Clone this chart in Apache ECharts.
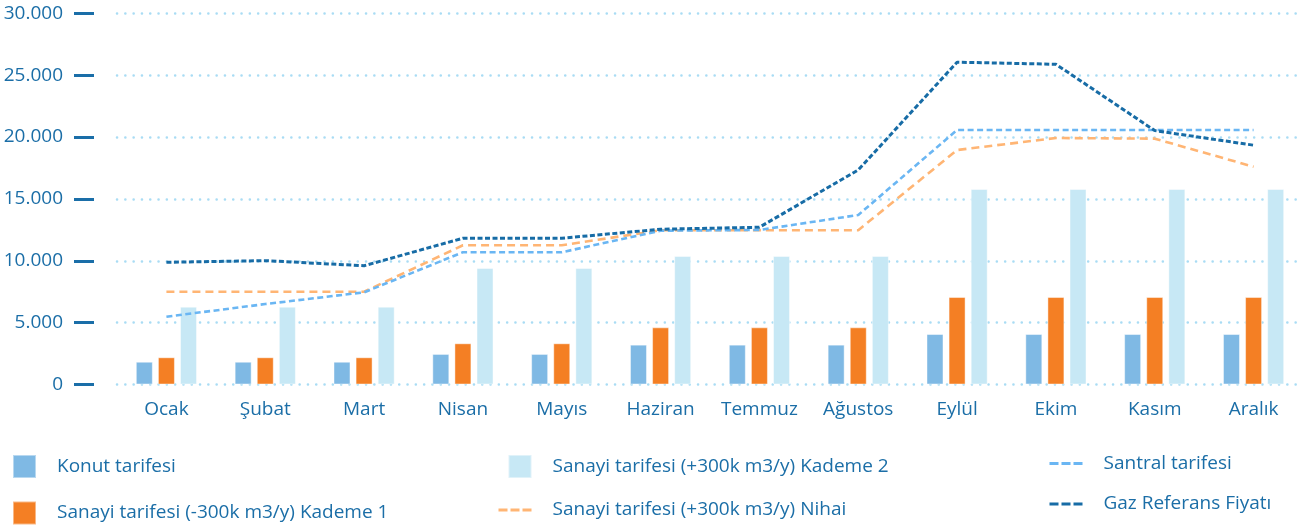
<!DOCTYPE html>
<html>
<head>
<meta charset="utf-8">
<script src="https://cdn.jsdelivr.net/npm/echarts@6/dist/echarts.min.js"></script>
<style>
  html, body { margin: 0; padding: 0; background: #fff; }
  #chart { width: 1305px; height: 530px; }
</style>
</head>
<body>
<div id="chart"></div>
<script>
const months = ['Ocak', 'Şubat', 'Mart', 'Nisan', 'Mayıs', 'Haziran', 'Temmuz', 'Ağustos', 'Eylül', 'Ekim', 'Kasım', 'Aralık']

const konut    = [1840, 1840, 1840, 2470, 2470, 3220, 3220, 3220, 4080, 4080, 4080, 4080]
const kademe1  = [2200, 2200, 2200, 3330, 3330, 4620, 4620, 4620, 7070, 7070, 7070, 7070]
const kademe2  = [6290, 6290, 6290, 9420, 9420, 10390, 10390, 10390, 15800, 15800, 15800, 15800]
const nihai    = [7500, 7500, 7500, 11250, 11250, 12470, 12470, 12470, 18950, 19920, 19870, 17600]
const santral  = [5480, 6500, 7450, 10690, 10690, 12430, 12490, 13700, 20570, 20570, 20570, 20570]
const gazRef   = [9880, 10010, 9600, 11820, 11820, 12550, 12710, 17340, 26050, 25880, 20520, 19340]

const TXT = '#1b6ea7'
const FONT = '"Open Sans", Lato, sans-serif'

const legendText = { color: TXT, fontSize: 19, fontFamily: FONT, padding: [0, 0, 0, 16] }
const legendBase = { orient: 'vertical', padding: 0, itemWidth: 23, itemHeight: 23, itemGap: 21.5, textStyle: legendText }
const barEntry = (name, icon = 'rect') => ({ name, icon })
// square pushed to the right of a 33px wide slot (column with a line entry)
const RIGHT_SQ = 'path://M0 0L0.01 0M10 0H33V23H10Z'
// line entries: hide the legend dot, keep three dashes
const lineEntry = name => ({ name, itemStyle: { opacity: 0 }, lineStyle: { type: [9, 3], width: 3 } })

function bar(name, data, color) {
  return { name, type: 'bar', data, barWidth: 17, barGap: '30%',
    itemStyle: { color, borderColor: 'rgba(255,255,255,.45)', borderWidth: 1 } }
}
function line(name, data, color, dash, width) {
  return { name, type: 'line', data, smooth: false, symbol: 'none',
    lineStyle: { color, width, type: dash } }
}

const chart = echarts.init(document.getElementById('chart'), null, { renderer: 'canvas' })
chart.setOption({
  backgroundColor: '#fff',
  animation: false,
  grid: { left: 117, right: 2, top: 13.3, bottom: 145.5 },
  legend: [
    { ...legendBase, left: 12, top: 454, data: [barEntry('Konut tarifesi'), barEntry('Sanayi tarifesi (-300k m3/y) Kademe 1')] },
    { ...legendBase, left: 497, top: 454, itemWidth: 33, data: [barEntry('Sanayi tarifesi (+300k m3/y) Kademe 2', RIGHT_SQ),
      lineEntry('Sanayi tarifesi (+300k m3/y) Nihai')] },
    { ...legendBase, left: 1048, top: 454, itemWidth: 33, data: [
      lineEntry('Santral tarifesi'), lineEntry('Gaz Referans Fiyatı')] },
  ],
  xAxis: { type: 'category', data: months,
    axisLine: { show: false }, axisTick: { show: false },
    axisLabel: { color: TXT, fontSize: 19, fontFamily: FONT, margin: 16, interval: 0 } },
  yAxis: { type: 'value', min: 0, max: 30000, interval: 5000, offset: 23,
    axisLine: { show: false },
    axisTick: { show: true, length: 20, lineStyle: { color: '#1a6ea8', width: 3 } },
    axisLabel: { color: TXT, fontSize: 19, fontFamily: FONT, margin: 31,
      formatter: v => v === 0 ? '0' : String(v).replace(/(\d)(?=(\d{3})+$)/g, '$1.') },
    splitLine: { lineStyle: { color: '#a9dcf4', width: 2.5, type: [0.1, 8.2], cap: 'round' } } },
  series: [
    bar('Konut tarifesi', konut, '#7fb9e4'),
    bar('Sanayi tarifesi (-300k m3/y) Kademe 1', kademe1, '#f47f24'),
    bar('Sanayi tarifesi (+300k m3/y) Kademe 2', kademe2, '#c7e8f5'),
    line('Sanayi tarifesi (+300k m3/y) Nihai', nihai, '#ffb574', [8, 5], 2.6),
    line('Santral tarifesi', santral, '#6ab6f3', [6, 3.5], 2.6),
    line('Gaz Referans Fiyatı', gazRef, '#176ca6', [5, 2.5], 3),
  ],
})
</script>
</body>
</html>
